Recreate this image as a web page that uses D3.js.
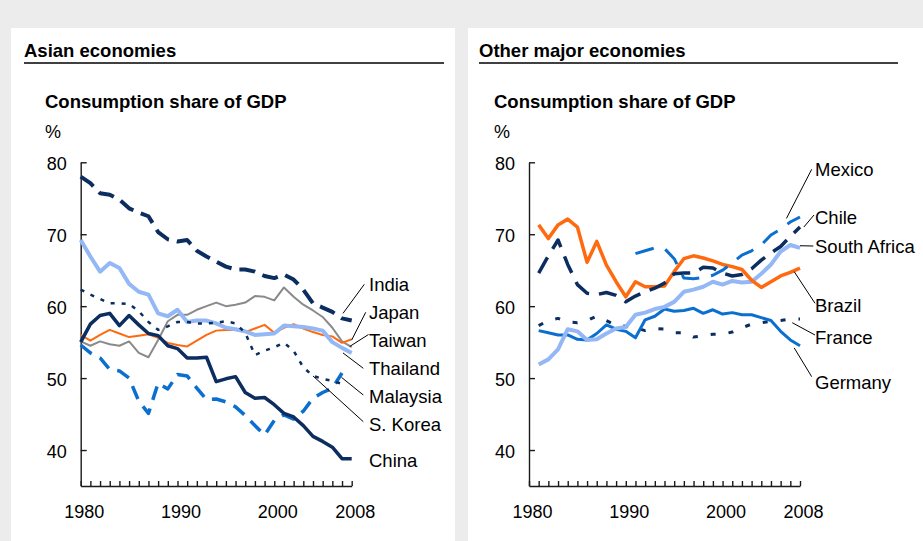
<!DOCTYPE html>
<html>
<head>
<meta charset="utf-8">
<script src="https://cdn.jsdelivr.net/npm/d3@7"></script>
<style>
  body { margin: 0; background: #ececec; }
  text { font-family: "Liberation Sans", Arial, sans-serif; fill: #000; }
</style>
</head>
<body>
<svg id="chart" width="923" height="541"></svg>
<script>
// years
const years = d3.range(1980, 2009);
const yearsMalaysia = d3.range(1980, 2008);
const yearsKorea = d3.range(1980, 2008);
const yearsRight = d3.range(1981, 2009);
const yearsMexico = d3.range(1991, 2009);

// Asian economies, consumption share of GDP (%)
const india    = [78.0, 77.1, 75.7, 75.5, 74.8, 73.6, 73.0, 72.5, 70.3, 69.3, 69.0, 69.2, 67.7, 66.9, 66.2, 65.5, 65.1, 65.1, 64.8, 64.2, 63.9, 64.4, 63.7, 62.3, 60.4, 59.8, 59.2, 58.3, 58.0];
const japan    = [56.0, 55.2, 56.0, 56.7, 56.2, 55.7, 55.9, 56.1, 55.6, 54.9, 54.6, 54.4, 55.2, 56.0, 56.6, 56.7, 56.7, 56.4, 56.9, 57.4, 56.3, 57.0, 57.5, 56.9, 56.4, 56.0, 55.8, 54.9, 55.4];
const taiwan   = [55.1, 54.5, 55.1, 54.7, 54.5, 55.1, 53.5, 52.9, 55.3, 57.9, 58.8, 58.8, 59.5, 60.0, 60.5, 60.0, 60.2, 60.5, 61.4, 61.3, 60.8, 62.6, 61.3, 60.2, 59.4, 58.5, 57.0, 55.1, 54.3];
const thailand = [69.2, 66.9, 64.8, 66.0, 65.3, 63.1, 62.0, 61.6, 59.0, 58.6, 59.5, 57.8, 58.0, 58.0, 57.6, 57.0, 56.8, 56.5, 56.0, 56.1, 56.2, 57.3, 57.2, 57.1, 56.9, 56.6, 55.0, 54.2, 53.5];
const malaysia = [54.6, 53.5, 52.8, 51.2, 51.0, 50.0, 46.8, 45.1, 49.3, 48.5, 50.5, 50.3, 48.6, 47.0, 47.1, 46.7, 46.0, 44.8, 43.4, 42.1, 44.1, 44.9, 44.3, 45.4, 47.2, 48.0, 48.6, 50.7];
const korea    = [62.3, 61.6, 61.0, 60.4, 60.4, 60.3, 59.3, 57.8, 56.7, 57.2, 57.8, 57.8, 57.6, 57.6, 57.7, 57.9, 57.6, 56.3, 53.2, 53.8, 54.3, 54.9, 53.8, 51.5, 50.3, 49.9, 49.6, 49.2];
const china    = [55.0, 57.5, 58.7, 59.0, 57.3, 58.7, 57.4, 56.2, 55.9, 54.5, 54.1, 52.8, 52.8, 52.9, 49.5, 49.9, 50.2, 48.0, 47.2, 47.3, 46.3, 45.1, 44.6, 43.4, 41.9, 41.2, 40.4, 38.8, 38.8];

// Other major economies
const brazil   = [71.3, 69.4, 71.3, 72.1, 71.0, 66.1, 69.0, 65.7, 63.4, 61.3, 63.4, 62.7, 62.7, 62.8, 64.8, 66.6, 67.0, 66.7, 66.3, 65.8, 65.5, 65.1, 63.6, 62.6, 63.4, 64.2, 64.7, 65.3];
const chile    = [64.6, 67.0, 69.2, 65.8, 63.0, 61.8, 61.6, 61.9, 61.5, 60.6, 61.4, 62.0, 62.5, 63.2, 64.5, 64.6, 64.6, 65.4, 65.3, 64.6, 64.2, 64.4, 65.2, 66.4, 67.4, 68.3, 69.7, 71.0];
const mexico   = [67.3, 67.7, 68.1, 68.0, 66.6, 63.9, 63.8, 64.0, 64.3, 65.0, 66.0, 67.1, 67.7, 68.5, 69.9, 70.7, 71.7, 72.4];
const safrica  = [51.9, 52.6, 54.0, 56.8, 56.5, 55.3, 55.4, 56.2, 56.9, 57.1, 58.8, 59.1, 59.6, 59.9, 60.6, 62.0, 62.3, 62.7, 63.4, 63.0, 63.5, 63.3, 63.4, 64.5, 65.8, 67.6, 68.5, 68.1];
const germany  = [56.6, 56.3, 56.0, 56.0, 55.4, 55.3, 56.2, 57.4, 56.8, 56.5, 55.6, 58.1, 58.6, 59.6, 59.3, 59.4, 59.7, 59.0, 59.5, 58.9, 59.1, 58.8, 58.8, 58.4, 58.0, 56.5, 55.3, 54.5];
const france   = [57.3, 58.0, 58.3, 57.8, 57.7, 58.0, 58.6, 58.0, 57.3, 57.2, 57.0, 56.6, 56.9, 56.8, 56.3, 56.3, 55.7, 55.9, 56.1, 56.1, 56.4, 57.0, 57.5, 57.7, 57.9, 58.0, 58.2, 58.2];

const yTicks = [40, 50, 60, 70, 80];
const xLabelYears = [1980, 1990, 2000, 2008];

const navy = "#0c2d5f", blue = "#0b6fd0", light = "#94b8f5", orange = "#ff6a10", gray = "#8a8a8a";

const panels = [
  {
    x0: 11, w: 444, title: "Asian economies", titleX: 24, ruleEnd: 444, subX: 45, axisX: 80.7,
    series: [
      {x: years, v: taiwan, color: gray, width: 2},
      {x: years, v: japan, color: orange, width: 2},
      {x: years, v: thailand, color: light, width: 4},
      {x: yearsMalaysia, v: malaysia, color: blue, width: 3.5, dash: "14,9"},
      {x: yearsKorea, v: korea, color: navy, width: 2.5, dash: "4,7"},
      {x: years, v: china, color: navy, width: 3.5},
      {x: years, v: india, color: navy, width: 4, dash: "16,8"}
    ],
    labels: [
      {name: "India", x: 369, y: 291, from: [364.3, 284.3], to: [2007.1, 59.0]},
      {name: "Japan", x: 369, y: 319, from: [365.7, 312.3], to: [2008, 55.3]},
      {name: "Taiwan", x: 369, y: 347, from: [368.5, 334.5], to: [2007.8, 54.4]},
      {name: "Thailand", x: 369, y: 375, from: [363.3, 368.3], to: [2007.1, 53.5]},
      {name: "Malaysia", x: 369, y: 403, from: [363.3, 395], to: [2006.95, 50.1]},
      {name: "S. Korea", x: 369, y: 431, from: [363.3, 421.7], to: [2004, 50.3]},
      {name: "China", x: 369, y: 467}
    ]
  },
  {
    x0: 468, w: 455, title: "Other major economies", titleX: 479, ruleEnd: 898, subX: 494, axisX: 529,
    series: [
      {x: yearsRight, v: france, color: navy, width: 3, dash: "5,13"},
      {x: yearsRight, v: germany, color: blue, width: 3},
      {x: yearsRight, v: safrica, color: light, width: 4},
      {x: yearsRight, v: brazil, color: orange, width: 3.5},
      {x: yearsRight, v: chile, color: navy, width: 3.5, dash: "18,10"},
      {x: yearsMexico, v: mexico, color: blue, width: 3, dash: "19,12"}
    ],
    labels: [
      {name: "Mexico", x: 815, y: 176, from: [811.7, 169.3], to: [2006.6, 72.2]},
      {name: "Chile", x: 815, y: 224, from: [814, 215], to: [2008.4, 71.0]},
      {name: "South Africa", x: 815, y: 253, from: [813.3, 246], to: [2008, 68.4]},
      {name: "Brazil", x: 815, y: 312, from: [815, 303.3], to: [2007.4, 64.8]},
      {name: "France", x: 815, y: 344, from: [815, 335], to: [2007.2, 57.7]},
      {name: "Germany", x: 815, y: 389, from: [811.7, 376.7], to: [2007.4, 54.2]}
    ]
  }
];

const svg = d3.select("#chart");

panels.forEach(p => {
  const x = d3.scaleLinear().domain([1980, 2008]).range([p.axisX, p.axisX + 271]);
  const y = d3.scaleLinear().domain([35, 80]).range([486, 162.3]);

  svg.append("rect")
    .attr("x", p.x0).attr("y", 28)
    .attr("width", p.w).attr("height", 541 - 28)
    .attr("fill", "#fff");

  svg.append("text")
    .attr("x", p.titleX).attr("y", 57)
    .attr("font-size", 18.5).attr("font-weight", "bold")
    .text(p.title);

  svg.append("line")
    .attr("x1", p.titleX).attr("x2", p.ruleEnd)
    .attr("y1", 63).attr("y2", 63)
    .attr("stroke", "#000").attr("stroke-width", 1.3);

  svg.append("text")
    .attr("x", p.subX).attr("y", 108)
    .attr("font-size", 18.5).attr("font-weight", "bold")
    .text("Consumption share of GDP");

  svg.append("text")
    .attr("x", p.subX).attr("y", 138)
    .attr("font-size", 18)
    .text("%");

  // y axis
  const yAxis = svg.append("g")
    .attr("transform", `translate(${p.axisX},0)`)
    .call(d3.axisLeft(y).tickValues(yTicks).tickSize(-6).tickSizeOuter(0).tickPadding(14));
  yAxis.selectAll("text")
    .attr("font-size", 18)
    .attr("dy", null)
    .attr("y", 7);

  // x axis
  const xAxis = svg.append("g")
    .attr("transform", `translate(0,${y(35)})`)
    .call(d3.axisBottom(x)
      .tickValues(years)
      .tickSize(-5)
      .tickSizeOuter(0)
      .tickFormat(d => xLabelYears.includes(d) ? d : ""));
  xAxis.selectAll("text")
    .attr("font-size", 18)
    .attr("dy", null)
    .attr("y", 32)
    .attr("dx", 3);

  [yAxis, xAxis].forEach(a => {
    a.selectAll("path, line").attr("stroke", "#1a1a1a").attr("stroke-width", 1.4);
    a.attr("font-family", null);
  });

  // series
  p.series.forEach(s => {
    const line = d3.line()
      .x((d, i) => x(s.x[i]))
      .y(d => y(d));
    svg.append("path")
      .datum(s.v)
      .attr("d", line)
      .attr("fill", "none")
      .attr("stroke", s.color)
      .attr("stroke-width", s.width)
      .attr("stroke-linejoin", "round")
      .attr("stroke-dasharray", s.dash || null);
  });

  // labels and leaders
  p.labels.forEach(l => {
    svg.append("text")
      .attr("x", l.x).attr("y", l.y)
      .attr("font-size", 18.5)
      .text(l.name);
    if (l.to) {
      svg.append("line")
        .attr("x1", l.from[0]).attr("y1", l.from[1])
        .attr("x2", x(l.to[0])).attr("y2", y(l.to[1]))
        .attr("stroke", "#000").attr("stroke-width", 1);
    }
  });
});
</script>
</body>
</html>
